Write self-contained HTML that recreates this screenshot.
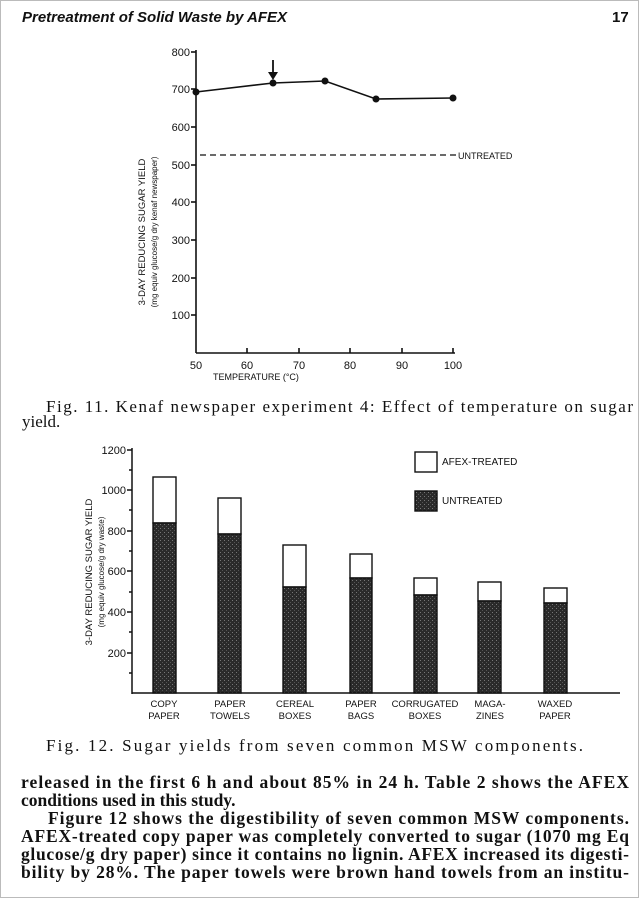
<!DOCTYPE html>
<html><head><meta charset="utf-8"><style>
html,body{margin:0;padding:0;background:#fff}
svg{display:block}
.s{font-family:"Liberation Sans",sans-serif;fill:#111}
.b{font-family:"Liberation Serif",serif;fill:#111}
</style></head><body>
<svg width="640" height="900" viewBox="0 0 640 900" xmlns="http://www.w3.org/2000/svg">
<defs>
<pattern id="pt" width="4" height="4" patternUnits="userSpaceOnUse">
<rect width="4" height="4" fill="#2a2a2a"/>
<rect x="0" y="0" width="1" height="1" fill="#777"/>
<rect x="2" y="2" width="1" height="1" fill="#555"/>
</pattern>
</defs>
<rect x="0.5" y="0.5" width="638" height="897" fill="none" stroke="#bbb"/>
<text x="22" y="22" class="s" font-size="15" font-style="italic" font-weight="bold">Pretreatment of Solid Waste by AFEX</text>
<text x="612" y="22" class="s" font-size="15" font-weight="bold">17</text>

<!-- Chart 1 -->
<g stroke="#111" stroke-width="1.6" fill="none">
<line x1="196" y1="50" x2="196" y2="353"/>
<line x1="196" y1="353" x2="455" y2="353"/>
<line x1="191" y1="52" x2="196" y2="52"/>
<line x1="191" y1="89" x2="196" y2="89"/>
<line x1="191" y1="127" x2="196" y2="127"/>
<line x1="191" y1="165" x2="196" y2="165"/>
<line x1="191" y1="202" x2="196" y2="202"/>
<line x1="191" y1="240" x2="196" y2="240"/>
<line x1="191" y1="278" x2="196" y2="278"/>
<line x1="191" y1="315" x2="196" y2="315"/>
<line x1="247" y1="353" x2="247" y2="348"/>
<line x1="299" y1="353" x2="299" y2="348"/>
<line x1="350" y1="353" x2="350" y2="348"/>
<line x1="402" y1="353" x2="402" y2="348"/>
<line x1="453" y1="353" x2="453" y2="348"/>
<polyline points="196,92 273,83 325,81 376,99 453,98"/>
<line x1="200" y1="155" x2="456" y2="155" stroke-dasharray="6,4" stroke-width="1.2"/>
<line x1="273" y1="60" x2="273" y2="77" stroke-width="1.8"/>
</g>
<polygon points="268,72 278,72 273,80" fill="#111"/>
<g fill="#111"><circle cx="196" cy="92" r="3.5"/><circle cx="273" cy="83" r="3.5"/><circle cx="325" cy="81" r="3.5"/><circle cx="376" cy="99" r="3.5"/><circle cx="453" cy="98" r="3.5"/></g>
<g class="s" font-size="11" text-anchor="end">
<text x="190" y="56">800</text><text x="190" y="93">700</text><text x="190" y="131">600</text><text x="190" y="169">500</text><text x="190" y="206">400</text><text x="190" y="244">300</text><text x="190" y="282">200</text><text x="190" y="319">100</text>
</g>
<g class="s" font-size="11" text-anchor="middle">
<text x="196" y="369">50</text><text x="247" y="369">60</text><text x="299" y="369">70</text><text x="350" y="369">80</text><text x="402" y="369">90</text><text x="453" y="369">100</text>
</g>
<text x="213" y="380" class="s" font-size="9">TEMPERATURE (°C)</text>
<text x="458" y="159" class="s" font-size="9">UNTREATED</text>
<text transform="translate(145,232) rotate(-90)" class="s" font-size="9.5" text-anchor="middle">3-DAY REDUCING SUGAR YIELD</text>
<text transform="translate(157,232) rotate(-90)" class="s" font-size="8" text-anchor="middle">(mg equiv glucose/g dry kenaf newspaper)</text>

<text x="46" y="412" class="b" font-size="17" textLength="587" lengthAdjust="spacing">Fig.   11.   Kenaf newspaper experiment 4: Effect of temperature on sugar</text>
<text x="22" y="427" class="b" font-size="17">yield.</text>

<!-- Chart 2 -->
<g stroke="#111" stroke-width="1.5" fill="none">
<line x1="132" y1="448" x2="132" y2="694"/>
<line x1="132" y1="693" x2="620" y2="693"/>
<line x1="127" y1="450" x2="132" y2="450"/>
<line x1="129" y1="470" x2="132" y2="470"/>
<line x1="127" y1="490" x2="132" y2="490"/>
<line x1="129" y1="510" x2="132" y2="510"/>
<line x1="127" y1="531" x2="132" y2="531"/>
<line x1="129" y1="551" x2="132" y2="551"/>
<line x1="127" y1="571" x2="132" y2="571"/>
<line x1="129" y1="592" x2="132" y2="592"/>
<line x1="127" y1="612" x2="132" y2="612"/>
<line x1="129" y1="632" x2="132" y2="632"/>
<line x1="127" y1="653" x2="132" y2="653"/>
<line x1="129" y1="673" x2="132" y2="673"/>
</g>
<g class="s" font-size="11" text-anchor="end">
<text x="126" y="454">1200</text><text x="126" y="494">1000</text><text x="126" y="535">800</text><text x="126" y="575">600</text><text x="126" y="616">400</text><text x="126" y="657">200</text>
</g>
<g stroke="#111" stroke-width="1.4">
<rect x="153" y="477" width="23" height="46" fill="#fff"/><rect x="153" y="523" width="23" height="170" fill="url(#pt)"/>
<rect x="218" y="498" width="23" height="36" fill="#fff"/><rect x="218" y="534" width="23" height="159" fill="url(#pt)"/>
<rect x="283" y="545" width="23" height="42" fill="#fff"/><rect x="283" y="587" width="23" height="106" fill="url(#pt)"/>
<rect x="350" y="554" width="22" height="24" fill="#fff"/><rect x="350" y="578" width="22" height="115" fill="url(#pt)"/>
<rect x="414" y="578" width="23" height="17" fill="#fff"/><rect x="414" y="595" width="23" height="98" fill="url(#pt)"/>
<rect x="478" y="582" width="23" height="19" fill="#fff"/><rect x="478" y="601" width="23" height="92" fill="url(#pt)"/>
<rect x="544" y="588" width="23" height="15" fill="#fff"/><rect x="544" y="603" width="23" height="90" fill="url(#pt)"/>
<rect x="415" y="452" width="22" height="20" fill="#fff"/>
<rect x="415" y="491" width="22" height="20" fill="url(#pt)"/>
</g>
<text x="442" y="465" class="s" font-size="10">AFEX-TREATED</text>
<text x="442" y="504" class="s" font-size="10">UNTREATED</text>
<g class="s" font-size="9.5" text-anchor="middle">
<text x="164" y="707">COPY</text><text x="164" y="719">PAPER</text>
<text x="230" y="707">PAPER</text><text x="230" y="719">TOWELS</text>
<text x="295" y="707">CEREAL</text><text x="295" y="719">BOXES</text>
<text x="361" y="707">PAPER</text><text x="361" y="719">BAGS</text>
<text x="425" y="707">CORRUGATED</text><text x="425" y="719">BOXES</text>
<text x="490" y="707">MAGA-</text><text x="490" y="719">ZINES</text>
<text x="555" y="707">WAXED</text><text x="555" y="719">PAPER</text>
</g>
<text transform="translate(92,572) rotate(-90)" class="s" font-size="9.5" text-anchor="middle">3-DAY REDUCING SUGAR YIELD</text>
<text transform="translate(104,572) rotate(-90)" class="s" font-size="8" text-anchor="middle">(mg equiv glucose/g dry waste)</text>

<text x="46" y="751" class="b" font-size="17" textLength="537" lengthAdjust="spacing">Fig.   12.   Sugar yields from seven common MSW components.</text>

<g class="b" font-size="17.5" font-weight="bold">
<text x="21" y="788" textLength="608" lengthAdjust="spacing">released in the first 6 h and about 85% in 24 h. Table 2 shows the AFEX</text>
<text x="21" y="806">conditions used in this study.</text>
<text x="48" y="824" textLength="581" lengthAdjust="spacing">Figure 12 shows the digestibility of seven common MSW components.</text>
<text x="21" y="842" textLength="608" lengthAdjust="spacing">AFEX-treated copy paper was completely converted to sugar (1070 mg Eq</text>
<text x="21" y="860" textLength="608" lengthAdjust="spacing">glucose/g dry paper) since it contains no lignin. AFEX increased its digesti-</text>
<text x="21" y="878" textLength="608" lengthAdjust="spacing">bility by 28%. The paper towels were brown hand towels from an institu-</text>
</g>
</svg>
</body></html>
